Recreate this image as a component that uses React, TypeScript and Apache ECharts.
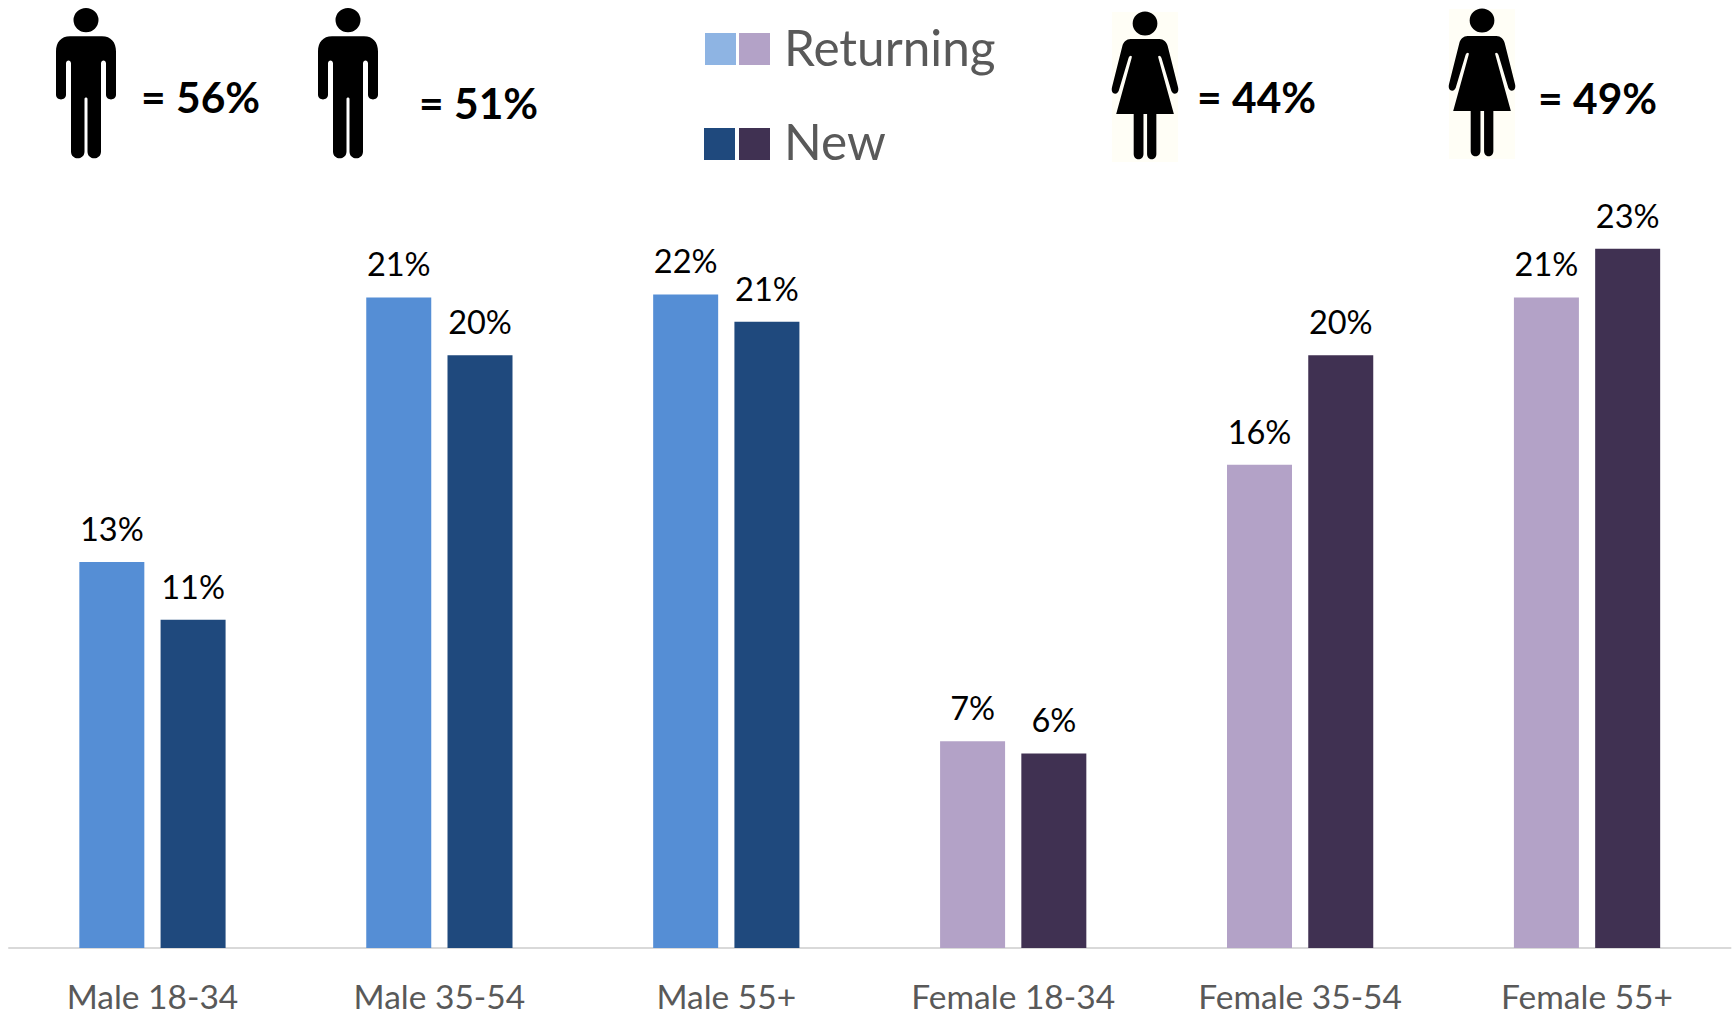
import React, { useEffect, useRef } from "react";
import * as echarts from "echarts";

const categories = ["Male 18-34", "Male 35-54", "Male 55+", "Female 18-34", "Female 35-54", "Female 55+"];
const returningValues = [12.7, 21.4, 21.5, 6.8, 15.9, 21.4];
const newValues = [10.8, 19.5, 20.6, 6.4, 19.5, 23.0];
const returningColors = ["#558ED5", "#558ED5", "#558ED5", "#B3A2C7", "#B3A2C7", "#B3A2C7"];
const newColors = ["#1F497D", "#1F497D", "#1F497D", "#403152", "#403152", "#403152"];
const FONT = "Lato, 'Open Sans', sans-serif";

const MAN =
  "M17.5 12a12.5 12 0 1 0 25 0a12.5 12 0 1 0 -25 0Z" +
  "M14 28H46C55 28 60 34 60 43V86C60 92 50 92 50 86V55C50 51 45 51 45 55V142C45 151 31.5 151 31.5 142V90C31.5 88 28.5 88 28.5 90V142C28.5 151 15 151 15 142V55C15 51 10 51 10 55V86C10 92 0 92 0 86V43C0 34 5 28 14 28Z";
const WOMAN =
  "M22 12.5a12 12 0 1 0 24 0a12 12 0 1 0 -24 0Z" +
  "M20 28H48C52 28 55 31 56 35L66 76C68 84 60 85 59 78L50 47C49 44 46 44 47 47L62 103H45V143C45 150 36 150 36 143V103H32.5V143C32.5 150 23 150 23 143V103H6L21 47C22 44 19 44 18 47L9 78C8 85 0 84 2 76L12 35C13 31 16 28 20 28Z";

echarts.graphic.registerShape("manIcon", echarts.graphic.extendPath(MAN, {}));
echarts.graphic.registerShape("womanIcon", echarts.graphic.extendPath(WOMAN, {}));

const swatch = (x: number, y: number, w: number, h: number, fill: string) => ({
  type: "rect", shape: { x, y, width: w, height: h }, style: { fill },
});
const stat = (x: number, y: number, text: string) => ({
  type: "text", x, y,
  style: { text, fill: "#000", font: `bold 42.5px ${FONT}`, textVerticalAlign: "middle" },
});
const legendText = (x: number, y: number, text: string) => ({
  type: "text", x, y,
  style: { text, fill: "#595959", font: `49.5px ${FONT}`, textVerticalAlign: "middle" },
});

export default function App() {
  const ref = useRef<HTMLDivElement>(null);
  useEffect(() => {
    document.body.style.margin = "0";
    document.body.style.overflow = "hidden";
    const chart = echarts.init(ref.current!, undefined, { renderer: "svg" });
    const barSeries = (name: string, values: number[], colors: string[]) => ({
      name,
      type: "bar",
      barWidth: 65,
      barGap: "25%",
      data: values.map((value, i) => ({ value, itemStyle: { color: colors[i] } })),
      label: {
        show: true,
        position: "top",
        distance: 17,
        color: "#000",
        fontFamily: FONT,
        fontSize: 32.5,
        formatter: (p: any) => `${Math.round(p.value)}%`,
      },
    });
    chart.setOption({
      animation: false,
      backgroundColor: "#fff",
      grid: { left: 9, right: 4.5, top: 36, bottom: 64 },
      xAxis: {
        type: "category",
        data: categories,
        axisLine: { lineStyle: { color: "#D9D9D9", width: 2 } },
        axisTick: { show: false },
        axisLabel: { color: "#595959", fontFamily: FONT, fontSize: 33.5, margin: 33, lineHeight: 30 },
      },
      yAxis: { type: "value", min: 0, max: 30, show: false },
      series: [
        barSeries("Returning", returningValues, returningColors),
        barSeries("New", newValues, newColors),
      ],
      graphic: [
        { type: "manIcon", x: 56, y: 8, scaleY: 1.01, style: { fill: "#000" } },
        { type: "manIcon", x: 318, y: 8, scaleY: 1.01, style: { fill: "#000" } },
        swatch(1112, 12, 66, 150, "#FFFEF6"),
        swatch(1449, 9, 66, 150, "#FFFEF6"),
        { type: "womanIcon", x: 1110, y: 11, scaleX: 1.03, style: { fill: "#000" } },
        { type: "womanIcon", x: 1447, y: 8, scaleX: 1.03, style: { fill: "#000" } },
        stat(141, 96, "= 56%"),
        stat(419, 102, "= 51%"),
        stat(1197, 96, "= 44%"),
        stat(1538, 97, "= 49%"),
        swatch(705, 33, 31, 32, "#8EB4E3"),
        swatch(739, 33, 31, 32, "#B3A2C7"),
        swatch(704, 128, 31, 32, "#1F497D"),
        swatch(739, 128, 31, 32, "#403152"),
        legendText(784, 47, "Returning"),
        legendText(784, 141, "New"),
      ],
    });
    return () => chart.dispose();
  }, []);
  return <div ref={ref} style={{ width: 1735, height: 1013 }} />;
}
